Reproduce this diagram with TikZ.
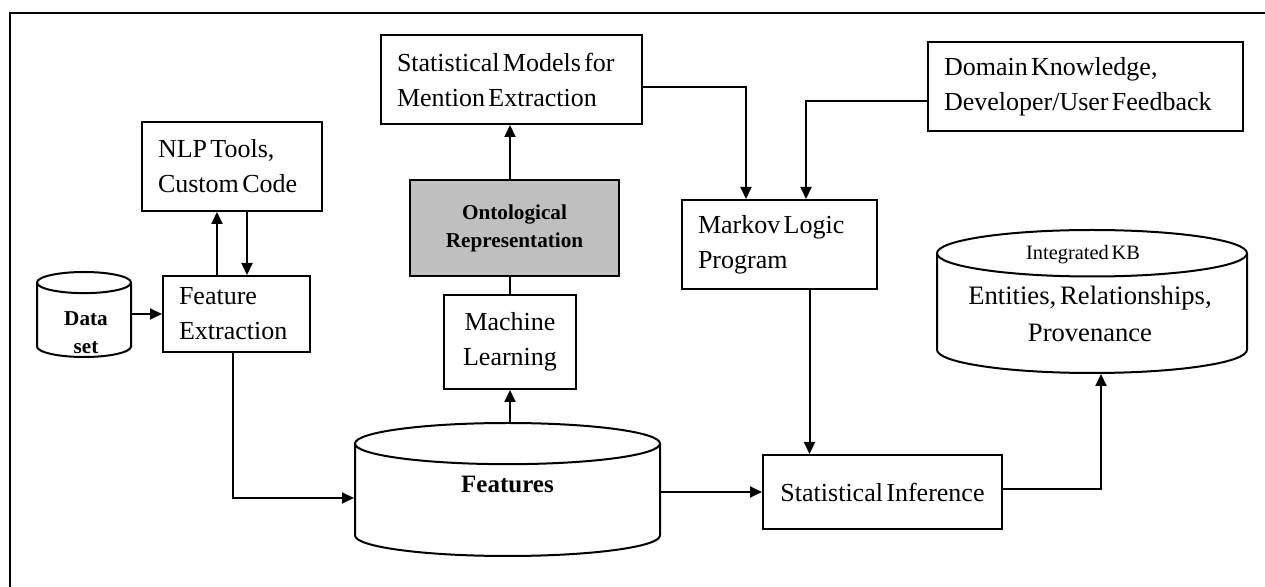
\documentclass[tikz,border=0pt]{standalone}
\usepackage{fontspec}
\setmainfont{Liberation Serif}
\usetikzlibrary{shapes.geometric,arrows.meta}
\newcommand{\grundschrift}{\fontsize{13}{17.5}\selectfont}
\newcommand{\kleinfett}{\fontsize{10.6}{14}\selectfont\bfseries}
\newcommand{\grossfett}{\fontsize{12.5}{15}\selectfont\bfseries}
\newcommand{\kbschrift}{\fontsize{10.2}{12}\selectfont\spaceskip=0.13em plus 0.05em\relax}
\newcommand{\kbgross}{\fontsize{13.3}{18.5}\selectfont\spaceskip=0.15em plus 0.05em\relax}
\newcommand{\engerabstand}{\spaceskip=0.13em plus 0.05em\relax}

\begin{document}
\begin{tikzpicture}[x=0.5pt,y=-0.5pt,
  kasten/.style={draw,line width=1pt,inner xsep=8pt,inner ysep=0pt,font=\grundschrift,execute at begin node=\engerabstand},
  links/.style={kasten,align=left,text width=#1},
  tonne/.style={draw,line width=1pt,cylinder,shape border rotate=90,inner sep=0pt,anchor=shape center,text width=#1},
  pfeil/.style={line width=1pt,-{Triangle[length=6pt,width=5.5pt]}},
  linie/.style={line width=1pt}]
  \useasboundingbox (0,0) rectangle (1265,587);
  % Rahmen
  \draw[line width=1pt] (10,600) -- (10,13) -- (1280,13);
  % Kaesten oben
  \node[links=114.5pt,minimum height=44.5pt] (stmod) at (511.5,79.5) {Statistical Models for\\Mention Extraction};
  \node[links=141.5pt,minimum height=44.5pt] (dom) at (1085.5,86.5) {Domain Knowledge,\\Developer/User Feedback};
  \node[links=74pt,minimum height=44.5pt] (nlp) at (232,166.5) {NLP Tools,\\Custom Code};
  \node[kasten,fill=black!25,minimum width=104.5pt,minimum height=48pt,align=center,font=\kleinfett] (onto) at (514.5,228) {Ontological\\Representation};
  \node[links=81.5pt,minimum height=44.5pt] (mlp) at (779.5,244.5) {Markov Logic\\Program};
  % Kaesten unten
  \node[links=57.5pt,minimum height=38pt] (fe) at (236.5,314) {Feature\\Extraction};
  \node[kasten,minimum width=66pt,minimum height=47pt,align=center] (ml) at (510,342) {Machine\\Learning};
  \node[kasten,minimum width=119.5pt,minimum height=37pt] (stinf) at (882.5,492) {Statistical Inference};
  % Datenbanken
  \node[tonne=47pt,aspect=0.225,minimum height=42.5pt] (data) at (84,314.5) {};
  \node[font=\kleinfett,align=center] (datatext) at (86,333) {Data\\set};
  \node[tonne=152.5pt,aspect=0.135,minimum height=66.5pt] (feat) at (507.5,489.5) {};
  \node[font=\grossfett] (feattext) at (507.5,484) {Features};
  \node[tonne=155pt,aspect=0.15,minimum height=71.5pt] (kb) at (1092,301.5) {};
  \node[font=\kbschrift] (kbtitel) at (1083,254.5) {Integrated KB};
  \node[font=\kbgross,align=center] (kbinhalt) at (1090,314) {Entities, Relationships,\\Provenance};
  % Pfeile
  \draw[pfeil] (data.east |- fe.west) -- (fe.west);
  \draw[pfeil] ([xshift=-7.5pt]nlp.south |- fe.north) -- ([xshift=-7.5pt]nlp.south);
  \draw[pfeil] ([xshift=7.5pt]nlp.south) -- ([xshift=7.5pt]nlp.south |- fe.north);
  \draw[pfeil] ([xshift=-2pt]fe.south) |- ([yshift=-4.25pt]feat.west |- feat.shape center);
  \draw[pfeil] (ml |- feat.north) -- (ml.south);
  \draw[linie] (ml.north) -- (ml |- onto.south);
  \draw[pfeil] (ml |- onto.north) -- (ml |- stmod.south);
  \draw[pfeil] ([yshift=-3.75pt]stmod.east) -| ([xshift=-16.75pt]mlp.north);
  \draw[pfeil] ([yshift=-7.25pt]dom.west) -| ([xshift=13.25pt]mlp.north);
  \draw[pfeil] ([xshift=15pt]mlp.south) -- ([xshift=15pt]mlp.south |- stinf.north);
  \draw[pfeil] (feat.east |- stinf.west) -- (stinf.west);
  \draw[pfeil] ([yshift=1.5pt]stinf.east) -| ([xshift=4.5pt]kb.south);
\end{tikzpicture}
\end{document}
